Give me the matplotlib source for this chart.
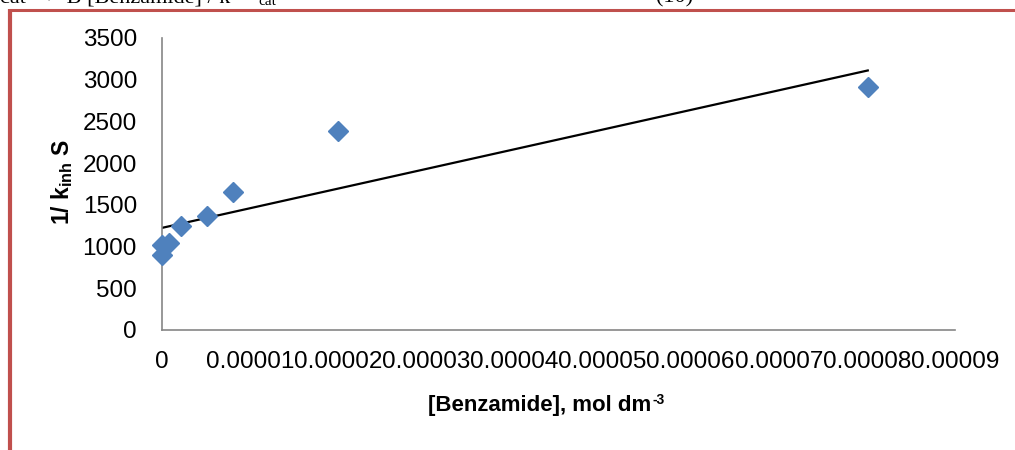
import numpy as np
import matplotlib
matplotlib.use("Agg")
import matplotlib.pyplot as plt
from matplotlib.lines import Line2D

# data
benzamide = [0.0, 0.0, 0.0000008, 0.0000021, 0.0000051, 0.0000081, 0.0000200, 0.0000801]
inv_k_inh = [900, 1020, 1046, 1247, 1366, 1650, 2385, 2916]

x_ticks = [0.0, 0.00001, 0.00002, 0.00003, 0.00004, 0.00005, 0.00006, 0.00007, 0.00008, 0.00009]
x_tick_labels = ["0", "0.00001", "0.00002", "0.00003", "0.00004",
                 "0.00005", "0.00006", "0.00007", "0.00008", "0.00009"]
y_ticks = [0, 500, 1000, 1500, 2000, 2500, 3000, 3500]

plt.rcParams['font.family'] = ['Liberation Sans', 'DejaVu Sans']
plt.rcParams['mathtext.fontset'] = 'custom'
plt.rcParams['mathtext.rm'] = 'Liberation Sans'
plt.rcParams['mathtext.it'] = 'Liberation Sans'
plt.rcParams['mathtext.bf'] = 'Liberation Sans:bold'

fig = plt.figure(figsize=(10.15, 4.5), dpi=100)
ax = fig.add_axes([162 / 1015, 1 - 330 / 450, (955 - 162) / 1015, (330 - 38) / 450])

# linear trendline (least squares, like Excel)
slope, intercept = np.polyfit(benzamide, inv_k_inh, 1)
xs = np.array([0.0, max(benzamide)])
ax.plot(xs, slope * xs + intercept, color='black', lw=1.6, zorder=2)

ax.plot(benzamide, inv_k_inh, linestyle='none', marker='D', markersize=10,
        color='#4F81BD', markeredgecolor='#4F81BD', zorder=3, clip_on=False)

ax.set_xlim(0, 0.00009)
ax.set_ylim(0, 3500)
ax.set_xticks(x_ticks)
ax.set_xticklabels(x_tick_labels)
ax.set_yticks(y_ticks)
ax.tick_params(axis='both', length=0, labelsize=17.5)
ax.tick_params(axis='y', pad=18)
ax.tick_params(axis='x', pad=15)

for s in ['top', 'right']:
    ax.spines[s].set_visible(False)
for s in ['left', 'bottom']:
    ax.spines[s].set_color('#868686')
    ax.spines[s].set_linewidth(1.2)

# x axis title with a small "-3" superscript
xt = fig.text(540 / 1015, 1 - 405 / 450, '[Benzamide], mol dm',
              ha='center', va='center', fontsize=16, fontweight='bold')
fig.canvas.draw()
bb = xt.get_window_extent()
fig.text((bb.x1 + 1) / 1015, (bb.y1 + 1) / 450, '-3', ha='left', va='top',
         fontsize=10, fontweight='bold')

fig.text(62 / 1015, 1 - 182 / 450, r'1/ k$_{\mathbf{inh}}$ S', rotation=90,
         ha='center', va='center', fontsize=16.5, fontweight='bold')

# red frame around the chart (continues past the image edges)
fig.add_artist(Line2D([10 / 1015, 10 / 1015], [0, 1 - 9 / 450], color='#C0504D',
                      lw=3, transform=fig.transFigure, solid_capstyle='butt'))
fig.add_artist(Line2D([8.5 / 1015, 1], [1 - 9.5 / 450, 1 - 9.5 / 450], color='#C0504D',
                      lw=2.2, transform=fig.transFigure, solid_capstyle='butt'))

# cut-off equation text from the page above the chart
fig.text(-0.012, 1 - 2 / 450, 'k', ha='left', va='baseline', fontsize=16,
         family='Liberation Serif')
fig.text(0.0, 1 - 3 / 450, 'cat   +  B [Benzamide] / k', ha='left', va='baseline',
         fontsize=16, family='Liberation Serif')
fig.text(258 / 1015, 1 - 5 / 450, 'cat', ha='left', va='baseline', fontsize=11,
         family='Liberation Serif')
fig.text(675 / 1015, 1 - 2 / 450, '(10)', ha='center', va='baseline',
         fontsize=16, family='Liberation Serif')

fig.savefig('out.png', dpi=100)
